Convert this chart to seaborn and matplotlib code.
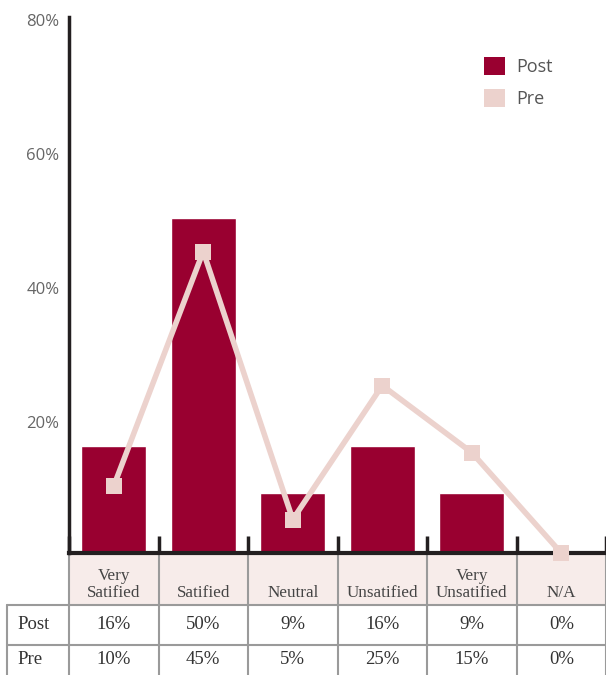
import matplotlib
matplotlib.use("Agg")
import matplotlib.pyplot as plt
import matplotlib.transforms as mtransforms
from matplotlib.patches import Rectangle
import seaborn as sns

# Survey satisfaction, before and after
categories = ["Very\nSatified", "Satified", "Neutral", "Unsatified", "Very\nUnsatified", "N/A"]
post_values = [16, 50, 9, 16, 9, 0]
pre_values = [10, 45, 5, 25, 15, 0]
y_ticks = [20, 40, 60, 80]
series_names = ["Post", "Pre"]

POST_COLOR = "#990030"
PRE_COLOR = "#ecd2cd"
AXIS_COLOR = "#231f20"
GRID_GRAY = "#9a9a9a"

sns.set_style("white")
plt.rcParams["font.family"] = ["Open Sans", "DejaVu Sans"]

W, H = 606, 675
fig = plt.figure(figsize=(W / 100, H / 100), dpi=100)

# main plotting area (pixel-based placement)
left_px, right_px, top_px, base_px = 69, 606, 17, 553
ax = fig.add_axes([left_px / W, 1 - base_px / H, (right_px - left_px) / W, (base_px - top_px) / H])
ax.set_zorder(3)
ax.patch.set_alpha(0)

positions = list(range(len(categories)))
sns.barplot(x=positions, y=post_values, color=POST_COLOR, width=0.73,
            saturation=1, ax=ax, zorder=2)
sns.pointplot(x=positions, y=pre_values, color=PRE_COLOR, markers="s",
              markersize=11, linewidth=4, ax=ax, zorder=5)
for coll in ax.lines:
    coll.set_clip_on(False)
    coll.set_markeredgewidth(0)
    coll.set_zorder(7)

ax.set_xlim(-0.5, len(categories) - 0.5)
ax.set_ylim(0, 80)
ax.set_yticks(y_ticks)
ax.set_yticklabels([f"{v}%" for v in y_ticks], color="#666666", fontsize=12)
ax.tick_params(axis="y", length=0, pad=7)
shift = mtransforms.ScaledTranslation(0, -3 / 100, fig.dpi_scale_trans)
for lbl in ax.get_yticklabels():
    lbl.set_transform(lbl.get_transform() + shift)
ax.set_xticks(positions)
ax.set_xticklabels([])
ax.tick_params(axis="x", which="major", length=0)
ax.set_xticks([p - 0.5 for p in positions] + [len(categories) - 0.5], minor=True)
ax.tick_params(axis="x", which="minor", direction="in", length=12, width=2.5,
               color=AXIS_COLOR, bottom=True)
ax.set_xlabel("")
ax.set_ylabel("")

for side in ["top", "right"]:
    ax.spines[side].set_visible(False)
ax.spines["left"].set_color(AXIS_COLOR)
ax.spines["left"].set_linewidth(2.5)
ax.spines["bottom"].set_color(AXIS_COLOR)
ax.spines["bottom"].set_linewidth(3)
ax.spines["left"].set_zorder(6)
ax.spines["bottom"].set_zorder(4)

# legend
handles = [Rectangle((0, 0), 1, 1, facecolor=POST_COLOR, edgecolor="none"),
           Rectangle((0, 0), 1, 1, facecolor=PRE_COLOR, edgecolor="none")]
fig.legend(handles, series_names, loc="upper left",
           bbox_to_anchor=(468 / W, 1 - 41 / H), frameon=False,
           fontsize=13, handlelength=1.15, handleheight=1.15,
           labelspacing=0.72, handletextpad=0.6, labelcolor="#555555")

# data table underneath the bars
tab = fig.add_axes([left_px / W, 0, (right_px - left_px) / W, (H - base_px) / H])
tab.set_zorder(1)
tab.set_xlim(-0.5, len(categories) - 0.5)
tab.set_ylim(H, base_px)
tab.axis("off")

header_bottom, post_bottom, pre_bottom = 605, 645, 690
label_left = -0.5 - (left_px - 7) / 89.5
serif = ["Liberation Serif", "DejaVu Serif"]

tab.add_patch(Rectangle((-0.5, base_px), len(categories), header_bottom - base_px,
                        facecolor="#f7ecea", edgecolor="none", zorder=0))

line_kw = dict(color=GRID_GRAY, lw=1.5, clip_on=False, zorder=1)
for p in range(len(categories) + 1):
    tab.plot([p - 0.5, p - 0.5], [base_px, pre_bottom], **line_kw)
tab.plot([label_left, label_left], [header_bottom, pre_bottom], **line_kw)
tab.plot([label_left, len(categories) - 0.5], [header_bottom, header_bottom], **line_kw)
tab.plot([label_left, len(categories) - 0.5], [post_bottom, post_bottom], **line_kw)

for p, cat in zip(positions, categories):
    tab.text(p, 601, cat, ha="center", va="bottom", family=serif,
             fontsize=12.3, color="#444444", linespacing=1.05)

for row_name, vals, y in [("Post", post_values, 625), ("Pre", pre_values, 660)]:
    tab.text(label_left + 0.12, y, row_name, ha="left", va="center",
             family=serif, fontsize=13.5, color="#333333", clip_on=False)
    for p, v in zip(positions, vals):
        tab.text(p, y, f"{v}%", ha="center", va="center", family=serif,
                 fontsize=13.5, color="#333333")

fig.savefig("out.png", dpi=100)
